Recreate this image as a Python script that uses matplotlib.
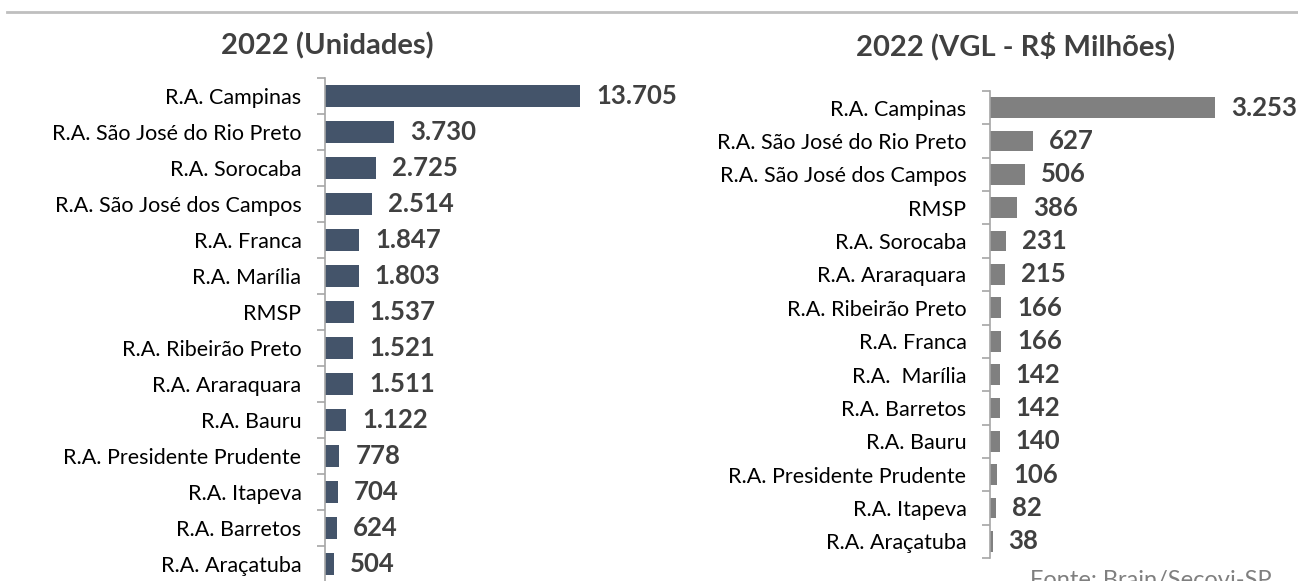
import matplotlib
matplotlib.use("Agg")
import matplotlib.pyplot as plt
from matplotlib.lines import Line2D

plt.rcParams['font.family'] = ['Lato', 'DejaVu Sans']

left_title = "2022 (Unidades)"
left_cats = ["R.A. Campinas", "R.A. São José do Rio Preto", "R.A. Sorocaba",
             "R.A. São José dos Campos", "R.A. Franca", "R.A. Marília", "RMSP",
             "R.A. Ribeirão Preto", "R.A. Araraquara", "R.A. Bauru",
             "R.A. Presidente Prudente", "R.A. Itapeva", "R.A. Barretos",
             "R.A. Araçatuba"]
left_vals = [13705, 3730, 2725, 2514, 1847, 1803, 1537, 1521, 1511, 1122,
             778, 704, 624, 504]

right_title = "2022 (VGL - R$ Milhões)"
right_cats = ["R.A. Campinas", "R.A. São José do Rio Preto",
              "R.A. São José dos Campos", "RMSP", "R.A. Sorocaba",
              "R.A. Araraquara", "R.A. Ribeirão Preto", "R.A. Franca",
              "R.A.  Marília", "R.A. Barretos", "R.A. Bauru",
              "R.A. Presidente Prudente", "R.A. Itapeva", "R.A. Araçatuba"]
right_vals = [3253, 627, 506, 386, 231, 215, 166, 166, 142, 142, 140, 106, 82, 38]

source = "Fonte: Brain/Secovi-SP"

W, H = 1298, 581
fig = plt.figure(figsize=(W / 100, H / 100), dpi=100)
fig.patch.set_facecolor("white")


def fmt(v):
    return f"{v:,}".replace(",", ".")


def panel(rect, cats, vals, color, xmax, offset):
    ax = fig.add_axes(rect)
    n = len(cats)
    y = list(range(n))
    ax.barh(y, vals, height=0.62, color=color)
    ax.set_ylim(n - 0.5, -0.5)
    ax.set_xlim(0, xmax)
    ax.set_yticks(y)
    ax.set_yticklabels(cats, fontsize=15.5, color="#000000")
    ax.set_yticks([i - 0.5 for i in range(n + 1)], minor=True)
    ax.tick_params(axis="y", which="major", length=0, pad=17)
    ax.tick_params(axis="y", which="minor", length=6, color="#A6A6A6", width=1.2)
    ax.set_xticks([])
    for s in ["top", "right", "bottom"]:
        ax.spines[s].set_visible(False)
    ax.spines["left"].set_color("#A6A6A6")
    ax.spines["left"].set_linewidth(1.2)
    ax.set_facecolor("none")
    for yi, v in zip(y, vals):
        ax.text(v + offset, yi, fmt(v), va="center", ha="left",
                fontsize=18.5, fontweight="bold", color="#404040")
    return ax


axL = panel([325 / W, -1 / H, 370 / W, 504 / H], left_cats, left_vals,
            "#44546A", 13705 * 370 / 255, 13705 * 16 / 255)
axR = panel([990 / W, 23 / H, 308 / W, 467 / H], right_cats, right_vals,
            "#808080", 3253 * 308 / 225, 3253 * 16 / 225)

fig.text(327 / W, 1 - 46 / H, left_title, ha="center", va="center",
         fontsize=21, fontweight="bold", color="#404040")
fig.text(1016 / W, 1 - 46 / H, right_title, ha="center", va="center",
         fontsize=21, fontweight="bold", color="#404040")
fig.text(1030 / W, 1 - 570 / H, source, ha="left", va="top",
         fontsize=17, color="#7F7F7F")

fig.add_artist(Line2D([7 / W, 1.0], [1 - 12 / H, 1 - 12 / H],
                      transform=fig.transFigure, color="#BFBFBF", lw=2))

fig.savefig("out.png", dpi=100, facecolor="white")
